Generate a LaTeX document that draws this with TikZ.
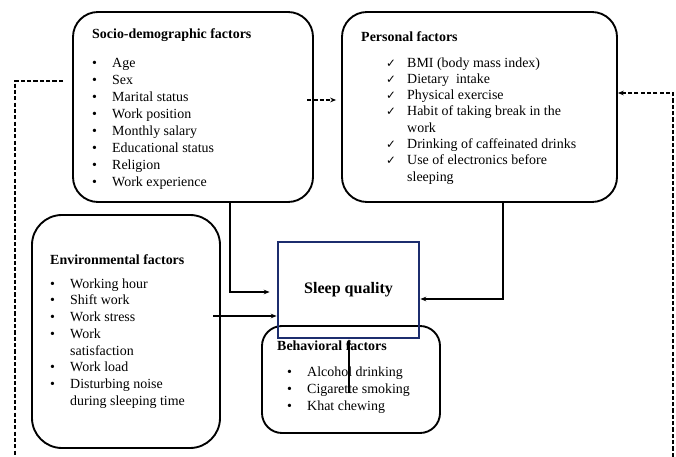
\documentclass[tikz,border=0pt]{standalone}
\usepackage{fontspec}
\setmainfont{Liberation Serif}
\newfontfamily\symfont{DejaVu Sans}
\usetikzlibrary{arrows.meta,calc}
\definecolor{navy}{RGB}{28,45,110}
\newcommand{\bul}{\makebox[0.6cm][l]{\textbullet}}
\newcommand{\chk}{\makebox[0.63cm][l]{\symfont\fontsize{10}{10}\selectfont ✓}}
\newcommand{\ind}{\hspace*{0.6cm}}

\begin{document}
\begin{tikzpicture}[x=0.03cm, y=-0.03cm,
    box/.style={draw, line width=1.6pt, inner sep=0pt},
    sleepbox/.style={draw=navy, line width=2.5pt, minimum width=4.23cm, minimum height=2.88cm, font=\fontsize{13.7}{16}\selectfont\bfseries},
    txt/.style={align=left, inner sep=0pt, anchor=north west},
    arr/.style={-{Stealth[length=5pt,width=4pt]}, line width=1.2pt},
    dashline/.style={dash pattern=on 3.6pt off 1.8pt, line width=1.2pt}]
    \useasboundingbox (0,0) rectangle (676,457);

    % boxes
    \node[box, rounded corners=0.75cm, minimum width=7.2cm, minimum height=5.7cm] (socio) at (193,107) {};
    \node[box, rounded corners=0.75cm, minimum width=8.25cm, minimum height=5.7cm] (personal) at (479.5,107) {};
    \node[box, rounded corners=0.9cm, minimum width=5.64cm, minimum height=6.99cm] (env) at (126,331.5) {};
    \node[box, rounded corners=0.6cm, minimum width=5.34cm, minimum height=3.21cm] (behav) at (351,379.5) {};
    \node[sleepbox] (sleep) at (348.5,290) {Sleep quality};

    % lists
    \node[txt, font=\fontsize{11.9}{14.6}\selectfont] (sociotxt) at (92,28.5) {\textbf{Socio-demographic factors}\\[9.7pt]
        \bul Age\\ \bul Sex\\ \bul Marital status\\ \bul Work position\\
        \bul Monthly salary\\ \bul Educational status\\ \bul Religion\\ \bul Work experience};
    \node[txt, font=\fontsize{11.9}{13.9}\selectfont] (personaltxt) at (361,31) {\textbf{Personal factors}\\[8.3pt]
        \hspace*{0.75cm}\chk BMI (body mass index)\\
        \hspace*{0.75cm}\chk Dietary~ intake\\
        \hspace*{0.75cm}\chk Physical exercise\\
        \hspace*{0.75cm}\chk Habit of taking break in the\\
        \hspace*{0.75cm}\hspace*{0.63cm}work\\
        \hspace*{0.75cm}\chk Drinking of caffeinated drinks\\
        \hspace*{0.75cm}\chk Use of electronics before\\
        \hspace*{0.75cm}\hspace*{0.63cm}sleeping};
    \node[txt, font=\fontsize{11.9}{14.3}\selectfont] (envtxt) at (50,254) {\textbf{Environmental factors}\\[6.2pt]
        \bul Working hour\\ \bul Shift work\\ \bul Work stress\\ \bul Work\\ \ind satisfaction\\
        \bul Work load\\ \bul Disturbing noise\\ \ind during sleeping time};
    \node[txt, font=\fontsize{11.9}{14.5}\selectfont] (behavtxt) at (277,340) {\textbf{Behavioral factors}\\[7.7pt]
        \hspace*{0.3cm}\bul Alcohol drinking\\ \hspace*{0.3cm}\bul Cigarette smoking\\ \hspace*{0.3cm}\bul Khat chewing};

    % connectors
    \coordinate (s1) at (230,202);
    \coordinate (p1) at (503,202);
    \coordinate (e1) at (213,316);
    \coordinate (b1) at (349,393);
    \draw[arr, shorten >=0.21cm] (s1) |- ($(sleep.west)+(0,2)$);
    \draw[arr] (e1) -- (e1 -| sleep.west);
    \draw[arr] (p1) |- ($(sleep.east)+(0,9)$);
    \draw[arr] (b1) -- (b1 |- sleep.south);

    \coordinate (d1) at (307,100);
    \coordinate (l1) at (63,81);
    \coordinate (lb) at (15,457);
    \coordinate (rb) at (673,457);
    \draw[arr, dashline, shorten >=0.15cm] (d1) -- (d1 -| personal.west);
    \draw[dashline] (l1) -| (lb);
    \draw[arr, dashline] (rb) |- ($(personal.east)+(0,-14)$);
\end{tikzpicture}
\end{document}
